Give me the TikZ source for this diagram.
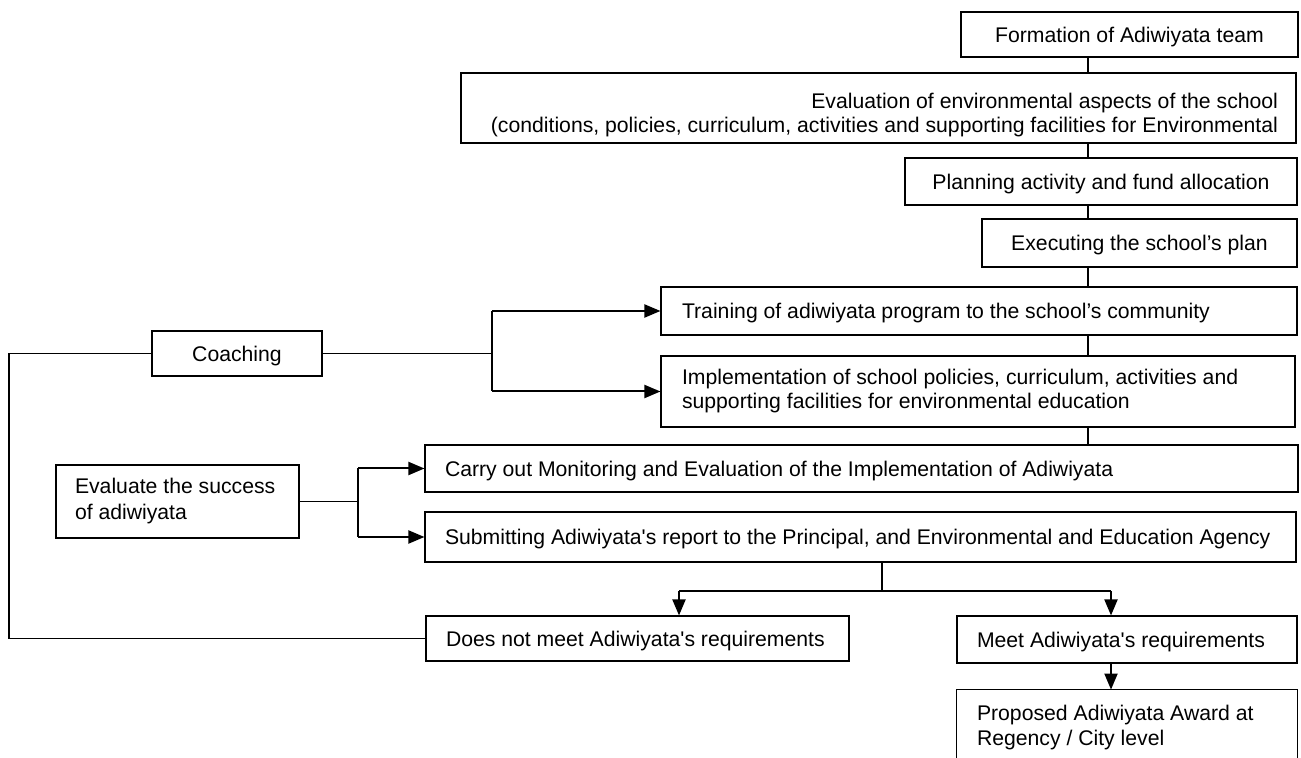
\documentclass[tikz,border=0pt]{standalone}
\usepackage{fontspec}
\setmainfont{Liberation Sans}
\usetikzlibrary{arrows.meta}
\newcommand{\ap}{\textquotesingle}
\begin{document}
\begin{tikzpicture}[x=0.5pt,y=-0.5pt,
  font=\fontsize{10.6}{12}\selectfont,
  box/.style={draw, line width=0.55pt, inner ysep=0pt, inner xsep=10pt},
  one/.style={text height=9.6pt, text depth=2pt},
  conn/.style={line width=0.55pt},
  arr/.style={line width=1pt, -{Triangle[length=8pt,width=6.5pt]}}]
\useasboundingbox (0,0) rectangle (1301,758);

\node[box, one, minimum width=168.5pt, minimum height=22.5pt, inner xsep=0pt] (form) at (1129.5,34.5) {Formation of Adiwiyata team};
\node[box, minimum width=417.5pt, minimum height=35pt, inner xsep=9pt, align=left] (eval) at (878.5,108)
  {\rule{0pt}{14.5pt}\makebox[399.5pt][r]{Evaluation of environmental aspects of the school}\\
   \makebox[399.5pt][r]{(conditions, policies, curriculum, activities and supporting facilities for Environmental}};
\node[box, one, minimum width=196pt, minimum height=23.5pt, inner xsep=0pt] (plan) at (1101,181.5) {Planning activity and fund allocation};
\node[box, one, minimum width=157.5pt, minimum height=24pt, inner xsep=0pt] (exec) at (1139.5,243) {Executing the school’s plan};
\node[box, one, minimum height=24pt, inner xsep=10.5pt] (train) at (979,311) {\makebox[297pt][l]{Training of adiwiyata program to the school’s community}};
\node[box, minimum height=35.5pt, inner xsep=10.5pt, align=left] (impl) at (978,391.5)
  {\makebox[296pt][l]{Implementation of school policies, curriculum, activities and}\\
   \makebox[296pt][l]{supporting facilities for environmental education}};
\node[box, one, minimum height=23.5pt] (carry) at (861.5,468.5) {\makebox[416.5pt][l]{Carry out Monitoring and Evaluation of the Implementation of Adiwiyata}};
\node[box, one, minimum height=25pt] (submit) at (860.5,537) {\makebox[415.5pt][l]{Submitting Adiwiyata\ap s report to the Principal, and Environmental and Education Agency}};
\node[box, one, minimum height=22.5pt] (notmeet) at (637.5,638.5) {\makebox[191.5pt][l]{Does not meet Adiwiyata\ap s requirements}};
\node[box, one, minimum height=23.5pt] (meet) at (1127,639.5) {\makebox[150pt][l]{Meet Adiwiyata\ap s requirements}};
\node[inner ysep=0pt, inner xsep=10pt, minimum height=38pt, align=left] (prop) at (1127,728)
  {\makebox[150pt][l]{Proposed Adiwiyata Award at}\\[0.5pt]
   \makebox[150pt][l]{Regency / City level}};
\draw[conn] (prop.south west) -- (prop.north west) -- (prop.north east) -- (prop.south east);
\node[box, one, minimum width=85pt, minimum height=22.5pt, inner xsep=0pt] (coach) at (237,353.5) {Coaching};
\node[box, minimum height=36.5pt, inner xsep=9.5pt, align=left] (es) at (177.5,501.5)
  {\makebox[102.5pt][l]{Evaluate the success}\\[1pt]
   \makebox[102.5pt][l]{of adiwiyata}};

\coordinate (sp) at (1088,0);
\coordinate (cb) at (492,0);
\coordinate (lp) at (9,0);
\coordinate (eb) at (358,0);
\coordinate (sb) at (882,591);
\coordinate (ja) at (679,591);
\coordinate (jb) at (1111,591);

\draw[conn] (form.south -| sp) -- (eval.north -| sp);
\draw[conn] (eval.south -| sp) -- (plan.north -| sp);
\draw[conn] (plan.south -| sp) -- (exec.north -| sp);
\draw[conn] (exec.south -| sp) -- (train.north -| sp);
\draw[conn] (train.south -| sp) -- (impl.north -| sp);
\draw[conn] (impl.south -| sp) -- (carry.north -| sp);

\draw[conn] (coach.east) -- (coach.east -| cb);
\draw[conn] (cb |- train.west) -- (cb |- impl.west);
\draw[arr] (cb |- train.west) -- (train.west);
\draw[arr] (cb |- impl.west) -- (impl.west);

\draw[conn] (notmeet.west) -- (notmeet.west -| lp) -- (coach.west -| lp) -- (coach.west);

\draw[conn] (es.east) -- (es.east -| eb);
\draw[conn] (eb |- carry.west) -- (eb |- submit.west);
\draw[arr] (eb |- carry.west) -- (carry.west);
\draw[arr] (eb |- submit.west) -- (submit.west);

\draw[conn] (submit.south -| sb) -- (sb);
\draw[conn] (ja) -- (jb);
\draw[arr] (ja) -- (notmeet.north -| ja);
\draw[arr] (jb) -- (meet.north -| jb);
\draw[arr] (meet.south -| jb) -- (prop.north -| jb);
\end{tikzpicture}
\end{document}
